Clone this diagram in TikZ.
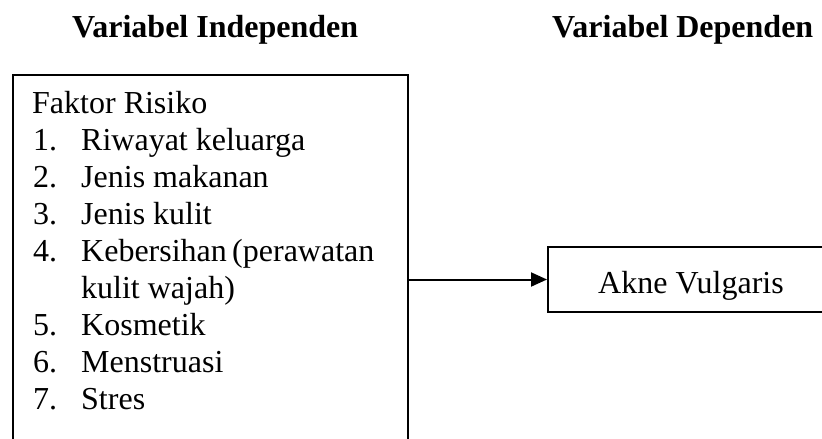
\documentclass[tikz,border=0pt]{standalone}
\usepackage{fontspec}
\setmainfont{Liberation Serif}
\usetikzlibrary{arrows.meta}
\begin{document}
\begin{tikzpicture}[x=1pt,y=-1pt,
  box/.style={draw=black, line width=2pt, rectangle, inner sep=0pt, anchor=north west},
  txt/.style={inner sep=0pt, anchor=base west, font=\fontsize{32}{37}\selectfont},
  head/.style={inner sep=0pt, anchor=base west, font=\fontsize{32}{37}\selectfont\bfseries},
  arrowline/.style={line width=2pt, -{Triangle[length=16pt,width=14pt]}}]
\useasboundingbox (0,0) rectangle (822,439);
\clip (0,0) rectangle (822,439);
\fill[white] (0,0) rectangle (822,439);
% headings
\node[head] (h1) at (72,37) {Variabel Independen};
\node[head] (h2) at (552,37) {Variabel Dependen};
% boxes
\node[box, minimum width=395pt, minimum height=400pt] (indep) at (12,74) {};
\node[box, minimum width=320pt, minimum height=65pt] (dep) at (547,246) {};
% left box text
\node[txt] (t0) at (32,113) {Faktor Risiko};
\node[txt] (n1) at (33,150) {1.};
\node[txt] (i1) at (81,150) {Riwayat keluarga};
\node[txt] (n2) at (33,187) {2.};
\node[txt] (i2) at (81,187) {Jenis makanan};
\node[txt] (n3) at (33,224) {3.};
\node[txt] (i3) at (81,224) {Jenis kulit};
\node[txt] (n4) at (33,261) {4.};
\node[txt] (i4) at (81,261) {Kebersihan\,(perawatan};
\node[txt] (i4b) at (81,298) {kulit wajah)};
\node[txt] (n5) at (33,335) {5.};
\node[txt] (i5) at (81,335) {Kosmetik};
\node[txt] (n6) at (33,372) {6.};
\node[txt] (i6) at (81,372) {Menstruasi};
\node[txt] (n7) at (33,409) {7.};
\node[txt] (i7) at (81,409) {Stres};
% right box text
\node[txt] (akne) at (598,293) {Akne Vulgaris};
% arrow
\draw[arrowline] (indep.east |- dep.west) -- (dep.west);
\end{tikzpicture}
\end{document}
